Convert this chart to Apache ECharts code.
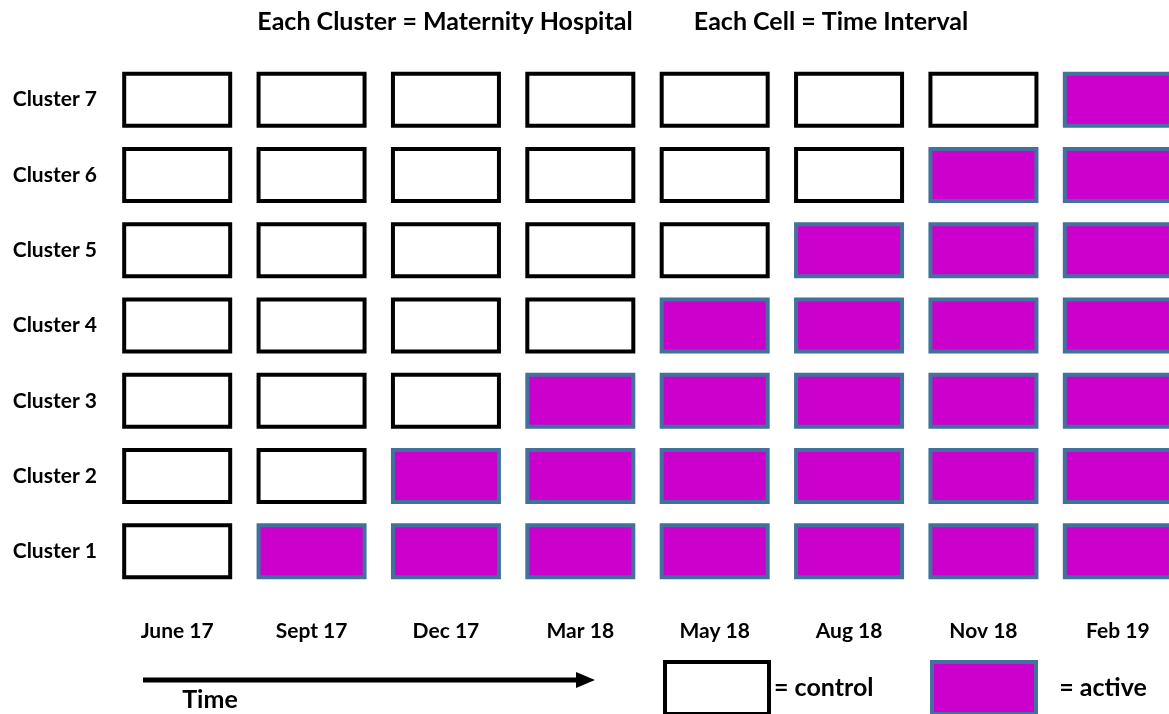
<!DOCTYPE html>
<html>
<head>
    <meta charset="UTF-8">
    <title>Stepped wedge design</title>
    <script src="https://cdn.jsdelivr.net/npm/echarts@6/dist/echarts.min.js"></script>
    <style>
        html, body { margin: 0; padding: 0; background: #fff; }
        #main { width: 1169px; height: 714px; }
    </style>
</head>
<body>
    <div id="main"></div>
    <script type="text/javascript">
        // time intervals (columns) and clusters (rows, bottom to top)
        var months = ['June 17', 'Sept 17', 'Dec 17', 'Mar 18', 'May 18', 'Aug 18', 'Nov 18', 'Feb 19'];
        var clusters = ['Cluster 1', 'Cluster 2', 'Cluster 3', 'Cluster 4', 'Cluster 5', 'Cluster 6', 'Cluster 7'];
        // 0 = control, 1 = active ; one row per cluster
        var cluster1 = [0, 1, 1, 1, 1, 1, 1, 1];
        var cluster2 = [0, 0, 1, 1, 1, 1, 1, 1];
        var cluster3 = [0, 0, 0, 1, 1, 1, 1, 1];
        var cluster4 = [0, 0, 0, 0, 1, 1, 1, 1];
        var cluster5 = [0, 0, 0, 0, 0, 1, 1, 1];
        var cluster6 = [0, 0, 0, 0, 0, 0, 1, 1];
        var cluster7 = [0, 0, 0, 0, 0, 0, 0, 1];
        var states = [cluster1, cluster2, cluster3, cluster4, cluster5, cluster6, cluster7];

        var FONT = 'Lato';
        var MAGENTA = '#cc00cc';
        var BLUE_EDGE = '#41719c';

        var controlCells = [];
        var activeCells = [];
        states.forEach(function (row, r) {
            row.forEach(function (s, c) {
                (s ? activeCells : controlCells).push([c, r]);
            });
        });

        function cell(params, api) {
            var p = api.coord([api.value(0), api.value(1)]);
            var w = 106, h = 52;
            return {
                type: 'rect',
                shape: { x: p[0] - w / 2, y: p[1] - h / 2, width: w, height: h },
                style: api.style()
            };
        }

        var myChart = echarts.init(document.getElementById('main'));
        myChart.setOption({
            animation: false,
            grid: { left: 110, right: -16, top: 62, bottom: 125, outerBoundsMode: 'none', containLabel: false },
            xAxis: {
                type: 'category',
                data: months,
                axisLine: { show: false },
                axisTick: { show: false },
                splitLine: { show: false },
                axisLabel: { margin: 32, color: '#000', fontFamily: FONT, fontWeight: 'bold', fontSize: 21 }
            },
            yAxis: {
                type: 'category',
                data: clusters,
                axisLine: { show: false },
                axisTick: { show: false },
                splitLine: { show: false },
                axisLabel: { margin: 13, color: '#000', fontFamily: FONT, fontWeight: 'bold', fontSize: 21 }
            },
            legend: [{
                data: ['control'],
                left: 663, top: 660, padding: 0,
                icon: 'rect', itemWidth: 104, itemHeight: 52,
                itemStyle: { color: '#fff', borderColor: '#000', borderWidth: 4 },
                formatter: '= {name}',
                textStyle: { color: '#000', fontFamily: FONT, fontWeight: 'bold', fontSize: 25 }
            }, {
                data: ['active'],
                left: 930, top: 660, padding: 0,
                icon: 'rect', itemWidth: 104, itemHeight: 52,
                itemStyle: { color: MAGENTA, borderColor: BLUE_EDGE, borderWidth: 4 },
                formatter: '   = {name}',
                textStyle: { color: '#000', fontFamily: FONT, fontWeight: 'bold', fontSize: 25 }
            }],
            graphic: [
                { type: 'text', x: 445, y: 22, style: { text: 'Each Cluster = Maternity Hospital', align: 'center', verticalAlign: 'middle', fill: '#000', font: 'bold 25px Lato' } },
                { type: 'text', x: 831, y: 22, style: { text: 'Each Cell = Time Interval', align: 'center', verticalAlign: 'middle', fill: '#000', font: 'bold 25px Lato' } },
                { type: 'line', shape: { x1: 143, y1: 680, x2: 578, y2: 680 }, style: { stroke: '#000', lineWidth: 5 } },
                { type: 'polygon', shape: { points: [[576, 672], [595, 680], [576, 688]] }, style: { fill: '#000' } },
                { type: 'text', x: 210, y: 700, style: { text: 'Time', align: 'center', verticalAlign: 'middle', fill: '#000', font: 'bold 25px Lato' } }
            ],
            series: [{
                name: 'control',
                type: 'custom',
                renderItem: cell,
                clip: false,
                itemStyle: { color: '#fff', borderColor: '#000', borderWidth: 4 },
                data: controlCells
            }, {
                name: 'active',
                type: 'custom',
                renderItem: cell,
                clip: false,
                itemStyle: { color: MAGENTA, borderColor: BLUE_EDGE, borderWidth: 4 },
                data: activeCells
            }]
        });
    </script>
</body>
</html>
